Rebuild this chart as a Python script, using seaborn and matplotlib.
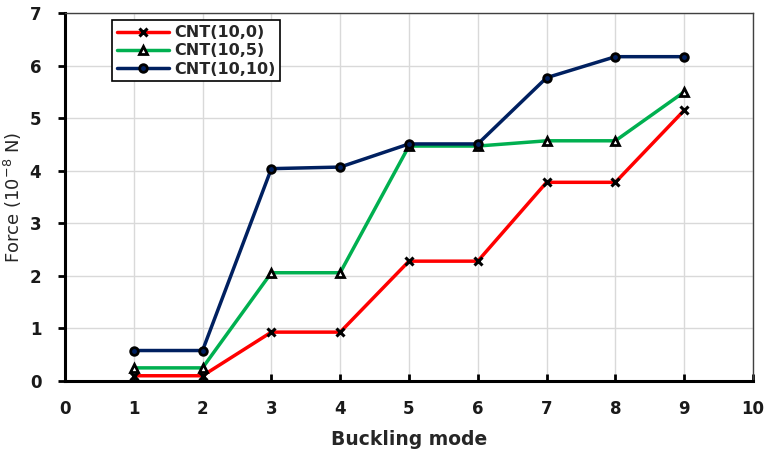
import matplotlib
matplotlib.use("Agg")
import matplotlib.pyplot as plt
import seaborn as sns
import pandas as pd

modes = [1, 2, 3, 4, 5, 6, 7, 8, 9]
cnt_10_0 = [0.10, 0.10, 0.93, 0.93, 2.28, 2.28, 3.78, 3.78, 5.15]
cnt_10_5 = [0.25, 0.25, 2.06, 2.06, 4.47, 4.47, 4.57, 4.57, 5.50]
cnt_10_10 = [0.58, 0.58, 4.04, 4.07, 4.51, 4.51, 5.77, 6.17, 6.17]
labels = ["CNT(10,0)", "CNT(10,5)", "CNT(10,10)"]
x_ticks = list(range(0, 11))
y_ticks = list(range(0, 8))

sns.set_theme(style="white")
plt.rcParams['font.family'] = ['DejaVu Sans']

fig = plt.figure(figsize=(7.64, 4.5), dpi=100)
ax = fig.add_axes([0.085, 0.1533, 0.9006, 0.8177])

styles = [
    dict(color="#FF0000", marker="x", mfc="black", mec="black", ms=6, mew=2.2),
    dict(color="#00B050", marker="^", mfc="white", mec="black", ms=6, mew=2),
    dict(color="#002060", marker="o", mfc="#002060", mec="black", ms=5.5, mew=2),
]
for vals, lab, st in zip([cnt_10_0, cnt_10_5, cnt_10_10], labels, styles):
    df = pd.DataFrame({"mode": modes, "force": vals})
    sns.lineplot(data=df, x="mode", y="force", ax=ax, label=lab,
                 color=st["color"], marker=st["marker"],
                 markerfacecolor=st["mfc"], markeredgecolor=st["mec"],
                 markersize=st["ms"], markeredgewidth=st["mew"], linewidth=2.5)

ax.set_xlim(0, 10)
ax.set_ylim(0, 7)
ax.set_xticks(x_ticks)
ax.set_yticks(y_ticks)
ax.grid(True, color="#D9D9D9", linewidth=1)
ax.set_axisbelow(True)

for s in ["left", "bottom"]:
    ax.spines[s].set_color("black")
    ax.spines[s].set_linewidth(2.2)
for s in ["top", "right"]:
    ax.spines[s].set_color("#404040")
    ax.spines[s].set_linewidth(1)
    ax.spines[s].set_visible(True)

ax.tick_params(axis="y", direction="out", length=5, width=2, color="black",
               left=True, labelsize=12, pad=12)
ax.tick_params(axis="x", direction="in", length=5, width=2, color="black",
               bottom=True, labelsize=12, pad=14)
for lbl in ax.get_xticklabels() + ax.get_yticklabels():
    lbl.set_fontweight("bold")
    lbl.set_color("#1a1a1a")

ax.set_xlabel("Buckling mode", fontsize=13.5, fontweight="bold", labelpad=8)
ax.set_ylabel("Force (10$^{-8}$ N)", fontsize=13, labelpad=4)

leg = ax.legend(loc="upper left", bbox_to_anchor=(0.068, 0.98), frameon=True,
                fancybox=False, edgecolor="black", framealpha=1,
                prop={"weight": "bold", "size": 11.5}, handlelength=3.3,
                handletextpad=0.3, borderpad=0.3, labelspacing=0.2,
                borderaxespad=0)
leg.get_frame().set_linewidth(1.2)

fig.savefig("out.png", dpi=100)
